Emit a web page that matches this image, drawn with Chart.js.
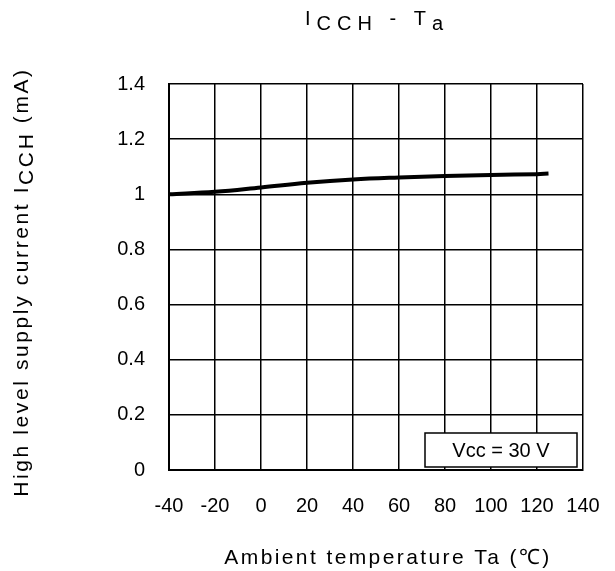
<!DOCTYPE html>
<html>
<head>
<meta charset="utf-8">
<script src="https://cdn.jsdelivr.net/npm/chart.js@4"></script>
<style>
  html, body { margin: 0; padding: 0; background: #fff; }
  #wrap { width: 615px; height: 571px; }
</style>
</head>
<body>
<div id="wrap"><canvas id="chart" width="615" height="571"></canvas></div>
<script>
/* data */
const temps = [-40, -20, 0, 20, 40, 60, 80, 100, 120, 125];
const iccValues = [1.0, 1.009, 1.025, 1.042, 1.054, 1.061, 1.066, 1.07, 1.073, 1.075];

const xTicks = [-40, -20, 0, 20, 40, 60, 80, 100, 120, 140];
const yTicks = [0, 0.2, 0.4, 0.6, 0.8, 1, 1.2, 1.4];

const condition = 'Vcc = 30 V';

const FONT = '"Liberation Sans", Arial, sans-serif';

/* draw a row of text pieces, some of them as subscripts */
function drawPieces(ctx, pieces, cx, baseline, size, spacing) {
  ctx.font = size + 'px ' + FONT;
  ctx.letterSpacing = spacing + 'px';
  let total = 0;
  pieces.forEach(p => { total += ctx.measureText(p.t).width; });
  let x = cx - total / 2;
  ctx.textAlign = 'left';
  ctx.textBaseline = 'alphabetic';
  pieces.forEach(p => {
    ctx.fillText(p.t, x, baseline + (p.sub ? 5 : 0));
    x += ctx.measureText(p.t).width;
  });
  ctx.letterSpacing = '0px';
}

const labelsPlugin = {
  id: 'labels',
  afterDraw(chart) {
    const ctx = chart.ctx;
    const area = chart.chartArea;
    ctx.save();
    ctx.fillStyle = '#000';

    // title
    drawPieces(ctx, [
      { t: 'I' }, { t: 'CCH', sub: true }, { t: ' - T' }, { t: 'a', sub: true }
    ], 377, 25, 20, 6);

    // x axis title
    drawPieces(ctx, [{ t: 'Ambient temperature Ta (℃)' }], 388, 564, 21, 2.4);

    // y axis title
    ctx.save();
    ctx.translate(28, 282);
    ctx.rotate(-Math.PI / 2);
    drawPieces(ctx, [
      { t: 'High level supply current I' }, { t: 'CCH', sub: true }, { t: ' (mA)' }
    ], 0, 0, 21, 2.6);
    ctx.restore();

    // condition box
    const w = 152, h = 34;
    const bx = area.right - 6 - w, by = area.bottom - 3 - h;
    ctx.fillStyle = '#fff';
    ctx.fillRect(bx, by, w, h);
    ctx.strokeStyle = '#000';
    ctx.lineWidth = 1.5;
    ctx.strokeRect(bx, by, w, h);
    ctx.fillStyle = '#000';
    ctx.font = '20px ' + FONT;
    ctx.textAlign = 'center';
    ctx.textBaseline = 'middle';
    ctx.fillText(condition, bx + w / 2, by + h / 2 + 1);

    ctx.restore();
  }
};

const ctxC = document.getElementById('chart').getContext('2d');
new Chart(ctxC, {
  type: 'line',
  data: {
    datasets: [{
      data: temps.map((t, i) => ({ x: t, y: iccValues[i] })),
      borderColor: '#000',
      borderWidth: 4,
      pointRadius: 0,
      tension: 0.4,
      fill: false
    }]
  },
  options: {
    responsive: false,
    animation: false,
    layout: { padding: { top: 84, right: 32, left: 0, bottom: 0 } },
    plugins: { legend: { display: false }, tooltip: { enabled: false } },
    scales: {
      x: {
        type: 'linear',
        min: -40,
        max: 140,
        afterBuildTicks: s => { s.ticks = xTicks.map(v => ({ value: v })); },
        afterFit: s => {
          s.height = 101;
          s.paddingLeft = 0;
          s.paddingRight = 0;
        },
        ticks: { color: '#000', font: { family: FONT, size: 20 }, padding: 24, maxRotation: 0 },
        grid: { color: '#000', lineWidth: 1.5, drawTicks: false },
        border: { color: '#000', width: 2 }
      },
      y: {
        min: 0,
        max: 1.4,
        afterBuildTicks: s => { s.ticks = yTicks.map(v => ({ value: v })); },
        afterFit: s => {
          s.width = 169;
          s.paddingTop = 0;
          s.paddingBottom = 0;
        },
        ticks: {
          color: '#000', font: { family: FONT, size: 20 }, padding: 24,
          callback: v => String(Math.round(v * 10) / 10)
        },
        grid: { color: '#000', lineWidth: 1.5, drawTicks: false },
        border: { color: '#000', width: 2 }
      }
    }
  },
  plugins: [labelsPlugin]
});
</script>
</body>
</html>
